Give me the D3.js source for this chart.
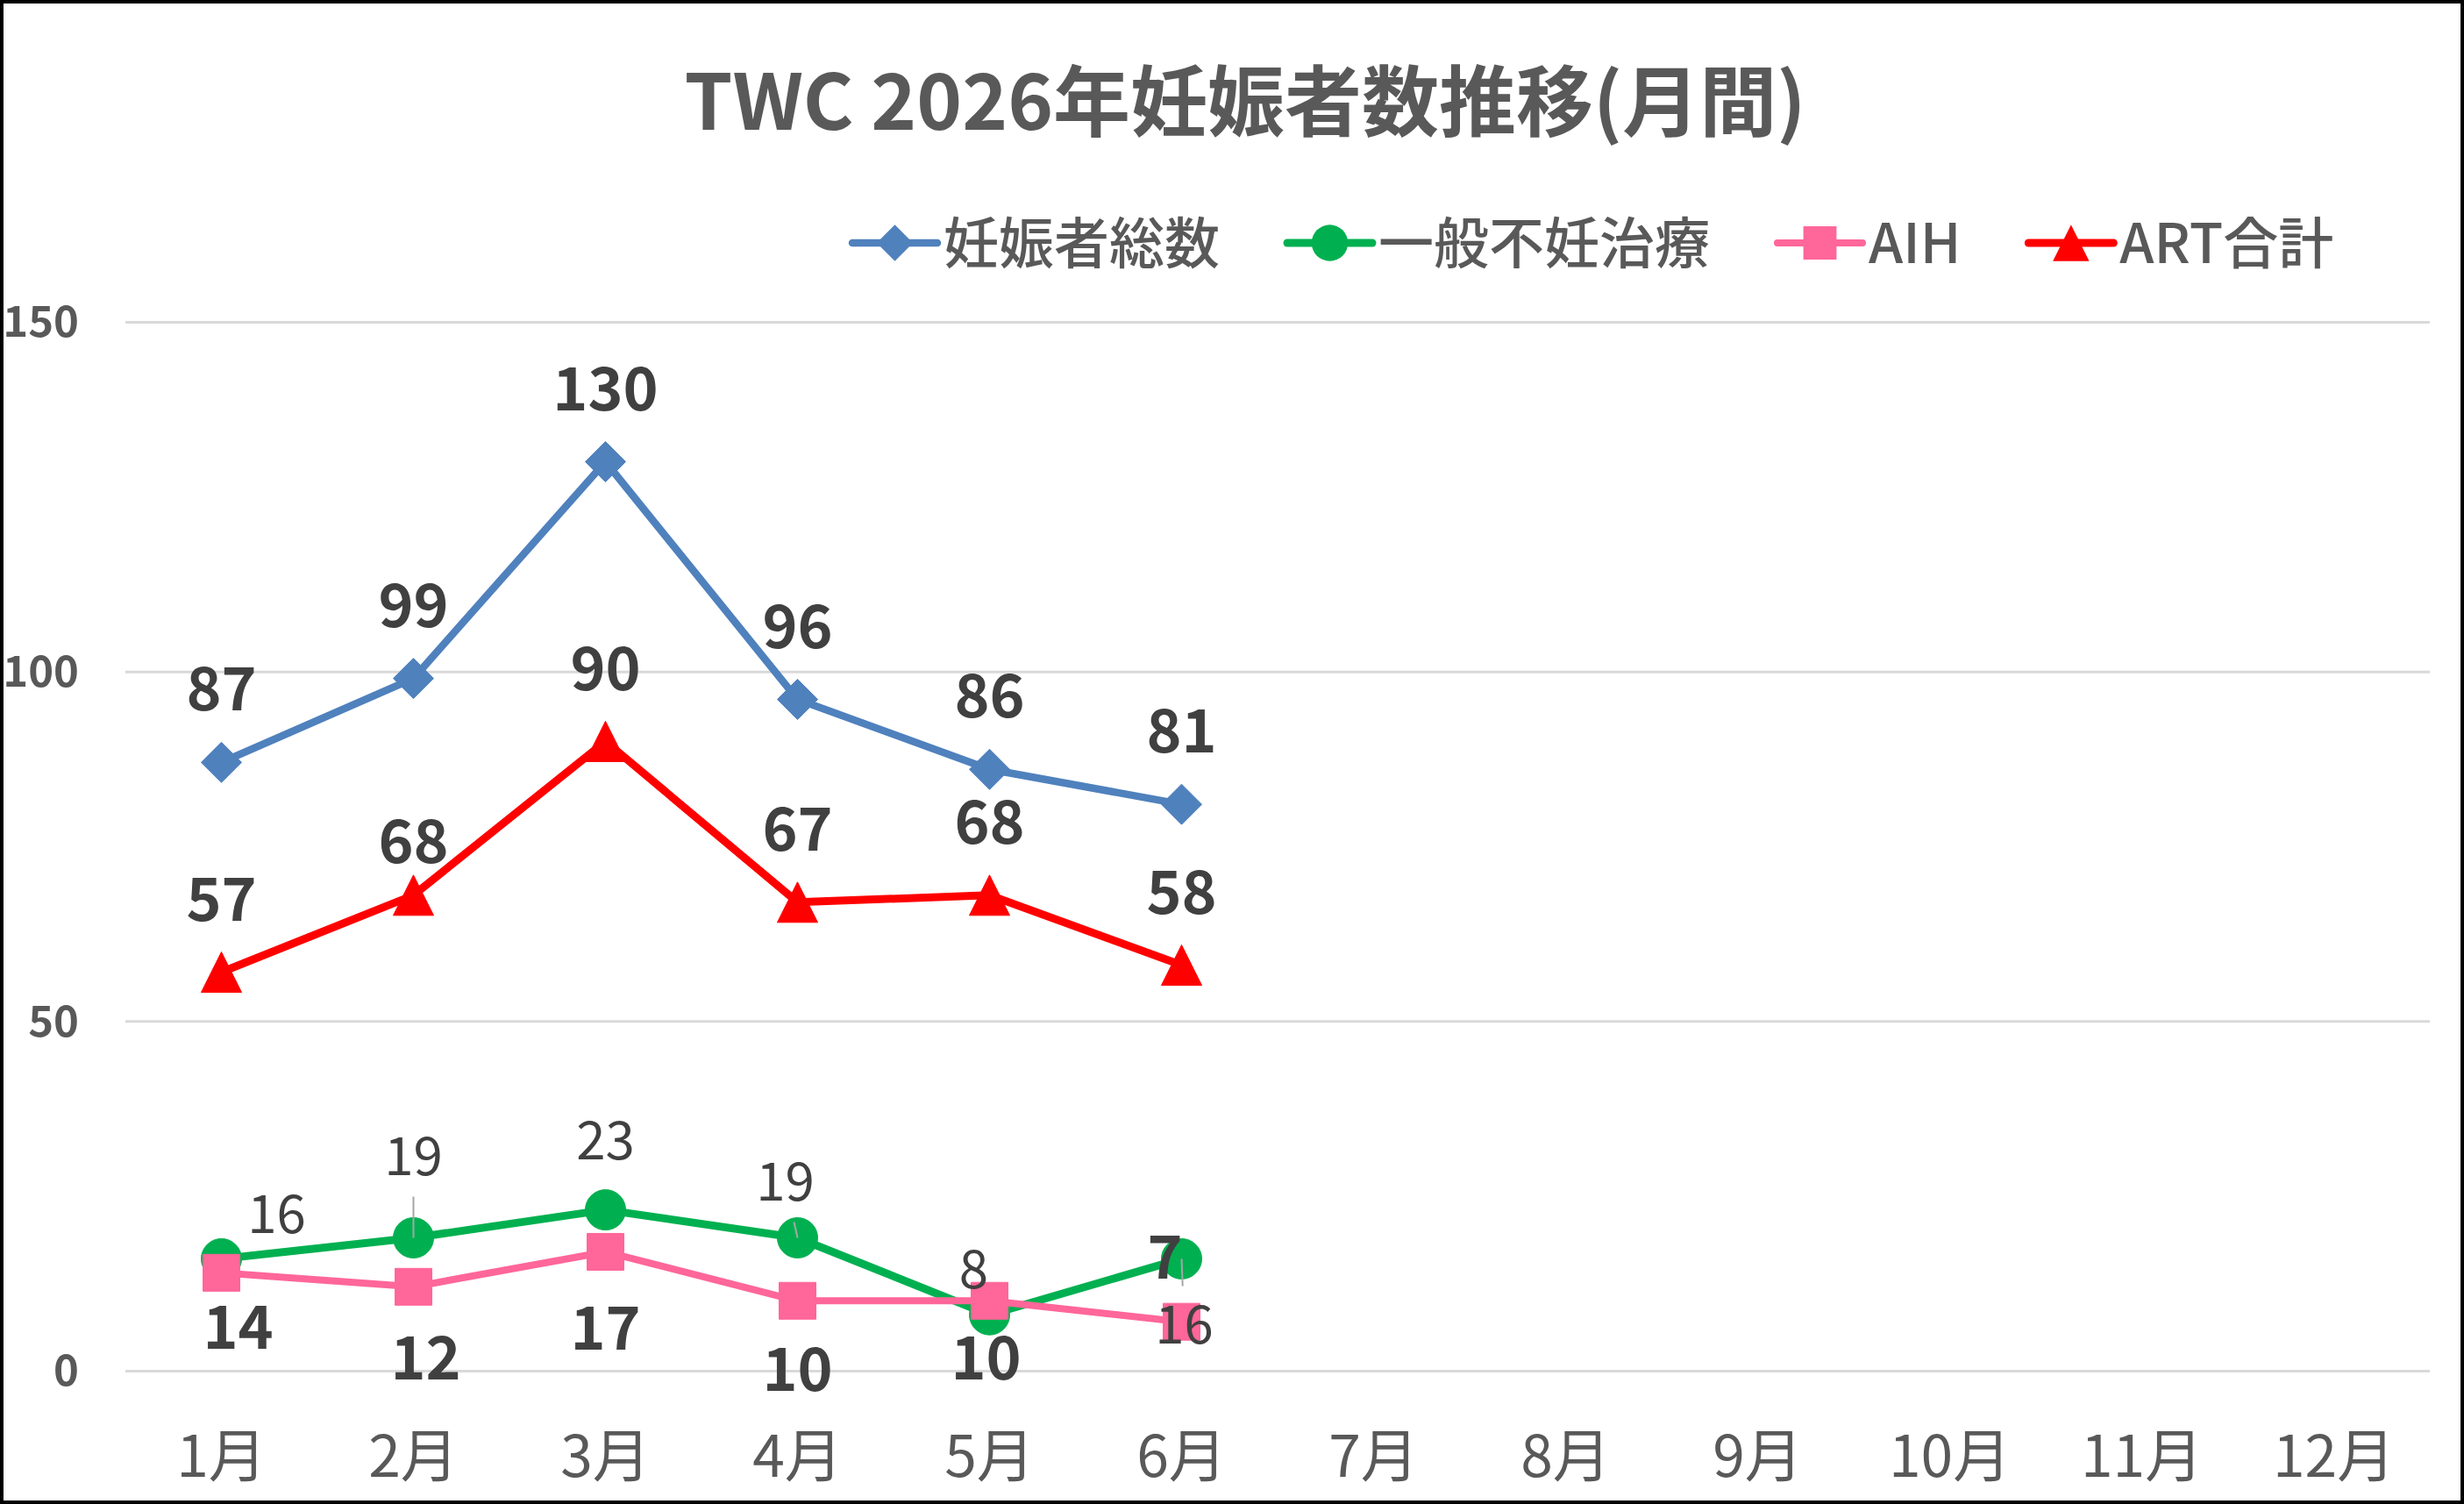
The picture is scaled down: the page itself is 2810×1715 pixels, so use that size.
<!DOCTYPE html>
<html><head><meta charset="utf-8">
<script src="https://cdn.jsdelivr.net/npm/d3@7/dist/d3.min.js"></script>
<style>
html,body{margin:0;padding:0;background:#fff;}
svg{display:block;}
text{font-family:"Noto Sans CJK JP","Noto Sans",sans-serif;}
</style></head>
<body>
<svg id="chart" width="2810" height="1715"></svg>
<script>
// ---- data ----
const months = ['1月','2月','3月','4月','5月','6月','7月','8月','9月','10月','11月','12月'];
const seriesNames = ['妊娠者総数','一般不妊治療','AIH','ART合計'];
const totalPregnancies = [87, 99, 130, 96, 86, 81];
const generalInfertility = [16, 19, 23, 19, 8, 16];
const aihValues = [14, 12, 17, 10, 10, 7];
const artTotal = [57, 68, 90, 67, 68, 58];
const yTicks = [0, 50, 100, 150];
const chartTitle = 'TWC 2026年妊娠者数推移(月間)';

// ---- layout / style (not data) ----
const W = 2810, H = 1715;
const plot = {left: 143, right: 2771, top: 367, bottom: 1563};
const labelOffsets = [
  [[0,-82],[0,-82],[0,-82],[0,-82],[0,-82],[0,-82]],
  [[63,-50],[0,-92],[0,-78],[-14,-63],[-18,-51],[3,76]],
  [[19,64],[14,83],[0,88],[0,80],[-4,67],[-19,-72]],
  [[0,-82],[0,-60],[0,-82],[0,-82],[0,-82],[0,-82]]
];
const leaderLines = [[],[1,3,5],[],[]];
const styles = [
  {color:'#4F81BD', marker:'diamond', bold:true,  fs:68, lw:8.5},
  {color:'#00B050', marker:'circle',  bold:false, fs:60, lw:9},
  {color:'#FF6699', marker:'square',  bold:true,  fs:68, lw:8},
  {color:'#FF0000', marker:'triangle',bold:true,  fs:68, lw:9}
];
const seriesValues = [totalPregnancies, generalInfertility, aihValues, artTotal];
const drawOrder = [0,1,2,3];

const svg = d3.select('#chart');
svg.append('rect').attr('x',0).attr('y',0).attr('width',W).attr('height',H).attr('fill','#fff');

const x = d3.scaleBand().domain(months).range([plot.left, plot.right]).padding(0);
const xc = m => x(m) + x.bandwidth()/2;
const y = d3.scaleLinear().domain([0,150]).range([plot.bottom, plot.top]);

// gridlines
const yAxis = d3.axisLeft(y).tickValues(yTicks).tickSize(-(plot.right-plot.left)).tickPadding(53);
const gy = svg.append('g').attr('transform',`translate(${plot.left},0)`).call(yAxis);
gy.select('.domain').remove();
gy.selectAll('.tick line').attr('stroke','#D9D9D9').attr('stroke-width',3);
gy.selectAll('.tick text').attr('fill','#595959').attr('font-size',49).attr('font-weight',700)
  .attr('font-family','"Noto Sans CJK JP","Noto Sans",sans-serif').attr('dy','0.34em');

// x axis labels
const xAxis = d3.axisBottom(x).tickSize(0).tickPadding(0);
const gx = svg.append('g').attr('transform',`translate(0,${plot.bottom})`).call(xAxis);
gx.select('.domain').remove();
gx.selectAll('.tick text').attr('fill','#595959').attr('font-size',66).attr('font-weight',400)
  .attr('font-family','"Noto Sans CJK JP","Noto Sans",sans-serif')
  .attr('y',97).attr('dy','0.36em');

function markerPath(type, s) {
  const p = d3.path();
  const k = s || 1;
  if (type === 'diamond') { const r=23*k; p.moveTo(0,-r); p.lineTo(r,0); p.lineTo(0,r); p.lineTo(-r,0); p.closePath(); }
  else if (type === 'circle') { const r=23*k; p.arc(0,0,r,0,2*Math.PI); }
  else if (type === 'square') { const r=21*k; p.rect(-r,-r,2*r,2*r); }
  else if (type === 'triangle') { const w=23*k, h=23*k; p.moveTo(0,-h); p.lineTo(w,h); p.lineTo(-w,h); p.closePath(); }
  return p.toString();
}

const line = d3.line().x((d,i)=>xc(months[i])).y(d=>y(d));

drawOrder.forEach(si => {
  const vals = seriesValues[si], st = styles[si];
  const g = svg.append('g');
  g.append('path').datum(vals).attr('d', line).attr('fill','none')
    .attr('stroke', st.color).attr('stroke-width', st.lw).attr('stroke-linejoin','round');
  g.selectAll('path.m').data(vals).join('path').attr('class','m')
    .attr('transform',(d,i)=>`translate(${xc(months[i])},${y(d)})`)
    .attr('d', markerPath(st.marker)).attr('fill', st.color)
    .attr('stroke', st.color).attr('stroke-width',1).attr('stroke-linejoin','round');
});

// leader lines
seriesValues.forEach((vals, si) => {
  leaderLines[si].forEach(i => {
    const px = xc(months[i]), py = y(vals[i]);
    const [dx,dy] = labelOffsets[si][i];
    const lx = px+dx, ly = py+dy;
    const edgeY = dy < 0 ? ly + 45 : ly - 45;
    const t = (edgeY - py) / (ly - py);
    const ex = px + (lx - px) * t;
    svg.append('line').attr('x1',px).attr('y1',py).attr('x2',ex).attr('y2',edgeY)
      .attr('stroke','#A6A6A6').attr('stroke-width',2);
  });
});

// data labels
drawOrder.forEach(si => {
  const vals = seriesValues[si], st = styles[si];
  svg.append('g').selectAll('text').data(vals).join('text')
    .attr('x',(d,i)=>xc(months[i]) + labelOffsets[si][i][0])
    .attr('y',(d,i)=>y(d) + labelOffsets[si][i][1])
    .attr('dy','0.34em').attr('text-anchor','middle')
    .attr('font-size', st.fs).attr('font-weight', st.bold?700:400)
    .attr('fill','#404040').text(d=>d);
});

// title
svg.append('text').attr('x',1420).attr('y',116).attr('dy','0.36em').attr('text-anchor','middle')
  .attr('font-size',88).attr('font-weight',700).attr('fill','#595959').text(chartTitle);

// legend
const lg = svg.append('g');
let lx = 972; const ly = 277;
seriesNames.forEach((name, si) => {
  const st = styles[si];
  lg.append('line').attr('x1',lx).attr('x2',lx+97).attr('y1',ly).attr('y2',ly)
    .attr('stroke',st.color).attr('stroke-width',st.lw).attr('stroke-linecap','round');
  lg.append('path').attr('transform',`translate(${lx+48.5},${ly})`).attr('d',markerPath(st.marker,0.9))
    .attr('fill',st.color);
  const t = lg.append('text').attr('x',lx+104).attr('y',ly).attr('dy','0.36em')
    .attr('font-size',63).attr('font-weight',500).attr('fill','#595959').text(name);
  const w = t.node().getComputedTextLength();
  lx = lx + 104 + w + 77;
});

// outer border
svg.append('rect').attr('x',2).attr('y',2).attr('width',W-4).attr('height',H-4)
  .attr('fill','none').attr('stroke','#000').attr('stroke-width',4);
</script>
</body></html>
